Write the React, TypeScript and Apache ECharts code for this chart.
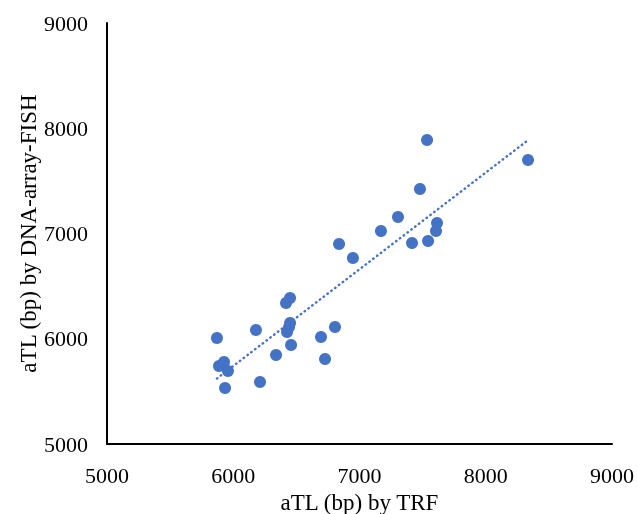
import React, { useEffect, useRef } from "react";
import * as echarts from "echarts";

const trfValues = [
  5871, 5887, 5927, 5958, 5935, 6180, 6212, 6339, 6426, 6418, 6450, 6442, 6450, 6458,
  6695, 6727, 6806, 6838, 6948, 7170, 7305, 7416, 7479, 7535, 7543, 7606, 7614, 8335,
];
const fishValues = [
  6007, 5741, 5779, 5694, 5532, 6083, 5589, 5846, 6064, 6340, 6387, 6112, 6150, 5940,
  6017, 5808, 6112, 6900, 6767, 7024, 7157, 6910, 7423, 7888, 6929, 7024, 7100, 7698,
];
const tickValues = [5000, 6000, 7000, 8000, 9000];
const xTitle = "aTL (bp) by TRF";
const yTitle = "aTL (bp) by DNA-array-FISH";

function regression(xs: number[], ys: number[]) {
  const n = xs.length;
  const mx = xs.reduce((a, b) => a + b, 0) / n;
  const my = ys.reduce((a, b) => a + b, 0) / n;
  let sxy = 0;
  let sxx = 0;
  for (let i = 0; i < n; i++) {
    sxy += (xs[i] - mx) * (ys[i] - my);
    sxx += (xs[i] - mx) * (xs[i] - mx);
  }
  const slope = sxy / sxx;
  return { slope, intercept: my - slope * mx };
}

export default function App() {
  const ref = useRef<HTMLDivElement>(null);
  useEffect(() => {
    if (!ref.current) return;
    const chart = echarts.init(ref.current, undefined, { renderer: "svg" });
    const points = trfValues.map((x, i) => [x, fishValues[i]]);
    const { slope, intercept } = regression(trfValues, fishValues);
    const xMin = Math.min(...trfValues);
    const xMax = Math.max(...trfValues);
    const trend = [
      [xMin, intercept + slope * xMin],
      [xMax, intercept + slope * xMax],
    ];
    const font = "'Liberation Serif', 'Times New Roman', serif";
    const fmt = (v: number) => String(v);
    chart.setOption({
      animation: false,
      grid: { left: 107, right: 25, top: 23, bottom: 70, outerBoundsMode: "none", containLabel: false },
      xAxis: {
        type: "value",
        min: tickValues[0],
        max: tickValues[tickValues.length - 1],
        interval: 1000,
        name: xTitle,
        nameLocation: "middle",
        nameGap: 44,
        nameTextStyle: { fontFamily: font, fontSize: 23, color: "#000" },
        axisLine: { show: true, lineStyle: { color: "#000", width: 2 } },
        axisTick: { show: false },
        splitLine: { show: false },
        axisLabel: { fontFamily: font, fontSize: 22, color: "#000", margin: 20, formatter: fmt },
      },
      yAxis: {
        type: "value",
        min: tickValues[0],
        max: tickValues[tickValues.length - 1],
        interval: 1000,
        axisLine: { show: true, lineStyle: { color: "#000", width: 2 } },
        axisTick: { show: false },
        splitLine: { show: false },
        axisLabel: { fontFamily: font, fontSize: 22, color: "#000", margin: 19, formatter: fmt },
      },
      graphic: [
        {
          type: "text",
          x: 28,
          y: 233.5,
          rotation: Math.PI / 2,
          style: {
            text: yTitle,
            fontFamily: font,
            fontSize: 23,
            fill: "#000",
            align: "center",
            verticalAlign: "middle",
          },
        },
      ],
      series: [
        {
          type: "line",
          data: trend,
          symbol: "none",
          lineStyle: { color: "#4472C4", width: 2.4, type: [0.5, 4.3], cap: "round" },
          z: 1,
        },
        {
          type: "scatter",
          data: points,
          symbolSize: 12,
          itemStyle: { color: "#4472C4", opacity: 1 },
          z: 2,
        },
      ],
    });
    return () => chart.dispose();
  }, []);
  return (
    <div
      ref={ref}
      style={{ position: "fixed", left: 0, top: 0, width: 637, height: 514 }}
    />
  );
}
